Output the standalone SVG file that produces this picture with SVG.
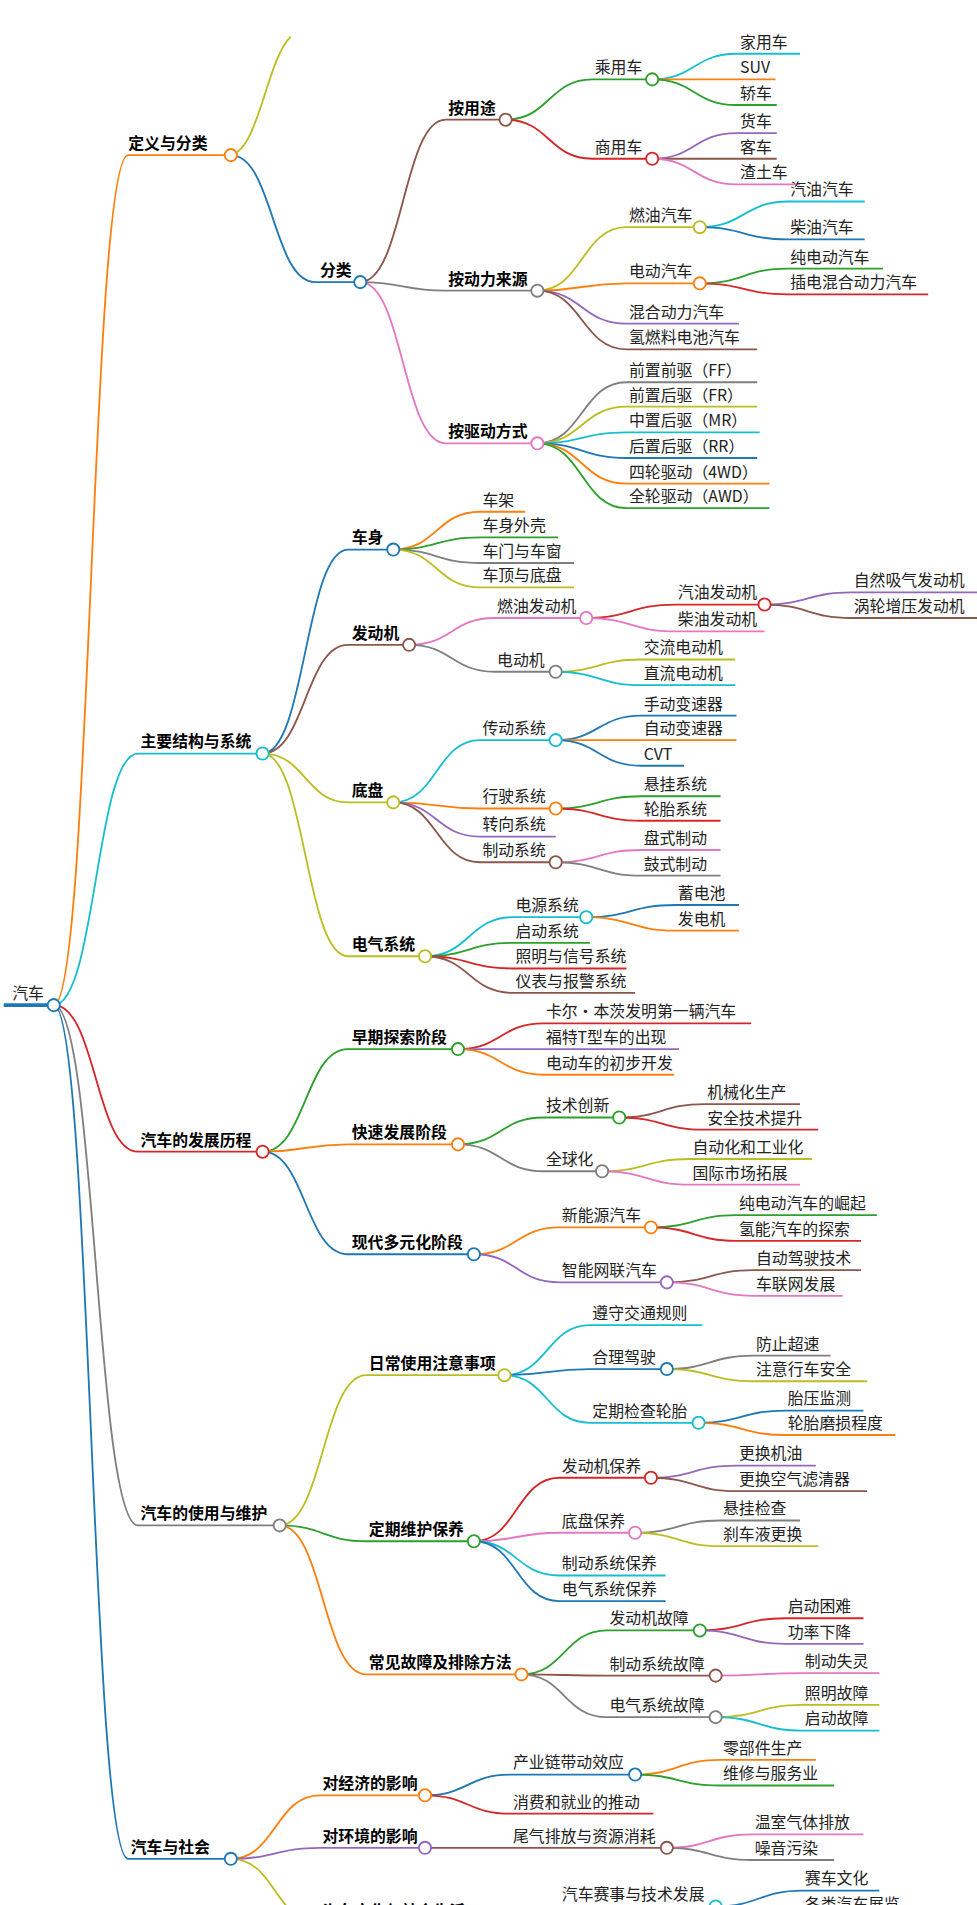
<svg xmlns="http://www.w3.org/2000/svg" width="977" height="1905" viewBox="0 0 977 1905">
<style>
path{fill:none;stroke-width:1.5}
circle{fill:#fff;stroke-width:1.5}
text{font-family:"Noto Sans CJK SC","Noto Sans",sans-serif;font-size:13px;fill:#222}
.h{font-weight:bold;fill:#000}
.b{stroke:#1f77b4}.o{stroke:#ff7f0e}.g{stroke:#2ca02c}.r{stroke:#d62728}.p{stroke:#9467bd}.n{stroke:#8c564b}.k{stroke:#e377c2}.y{stroke:#7f7f7f}.l{stroke:#bcbd22}.c{stroke:#17becf}
</style>
<rect width="977" height="1905" fill="#fff"/>
<g transform="scale(1.2213)">
<g id="connectors">
<path class="b" d="M3 823H44" style="stroke-width:3"/>
<path class="o" d="M44 823C74.5 823 74.5 127 105 127H189"/>
<path class="l" d="M189 127C212 122 218 50 238 30"/>
<path class="b" d="M189 127C223.5 127 223.5 231 258 231H295"/>
<path class="n" d="M295 231C330 231 330 98 365 98H414"/>
<path class="g" d="M414 98C449.5 98 449.5 65 485 65H534"/>
<path class="c" d="M534 65C568.5 65 568.5 44 603 44H655"/>
<path class="o" d="M534 65C568.5 65 568.5 65 603 65H635"/>
<path class="g" d="M534 65C568.5 65 568.5 86 603 86H636"/>
<path class="r" d="M414 98C449.5 98 449.5 130 485 130H534"/>
<path class="p" d="M534 130C568.5 130 568.5 109 603 109H636"/>
<path class="n" d="M534 130C568.5 130 568.5 130 603 130H636"/>
<path class="k" d="M534 130C568.5 130 568.5 151 603 151H655"/>
<path class="y" d="M295 231C330 231 330 238 365 238H440"/>
<path class="l" d="M440 238C476.5 238 476.5 186 513 186H573"/>
<path class="c" d="M573 186C609 186 609 165 645 165H708"/>
<path class="b" d="M573 186C609 186 609 196 645 196H708"/>
<path class="o" d="M440 238C476.5 238 476.5 232 513 232H573"/>
<path class="g" d="M573 232C609 232 609 220 645 220H723"/>
<path class="r" d="M573 232C609 232 609 241 645 241H760"/>
<path class="p" d="M440 238C476.5 238 476.5 265 513 265H605"/>
<path class="n" d="M440 238C476.5 238 476.5 286 513 286H620"/>
<path class="k" d="M295 231C330 231 330 363 365 363H440"/>
<path class="y" d="M440 363C476.5 363 476.5 313 513 313H620"/>
<path class="l" d="M440 363C476.5 363 476.5 333 513 333H620"/>
<path class="c" d="M440 363C476.5 363 476.5 354 513 354H622"/>
<path class="b" d="M440 363C476.5 363 476.5 375 513 375H620"/>
<path class="o" d="M440 363C476.5 363 476.5 396 513 396H630"/>
<path class="g" d="M440 363C476.5 363 476.5 416 513 416H630"/>
<path class="c" d="M44 823C78.5 823 78.5 617 113 617H215"/>
<path class="b" d="M215 617C250 617 250 450 285 450H322"/>
<path class="o" d="M322 450C357.5 450 357.5 419 393 419H430"/>
<path class="g" d="M322 450C357.5 450 357.5 440 393 440H457"/>
<path class="y" d="M322 450C357.5 450 357.5 461 393 461H470"/>
<path class="l" d="M322 450C357.5 450 357.5 481 393 481H470"/>
<path class="n" d="M215 617C250 617 250 528 285 528H335"/>
<path class="k" d="M335 528C370 528 370 506 405 506H480"/>
<path class="r" d="M480 506C516.5 506 516.5 495 553 495H626"/>
<path class="p" d="M626 495C661.5 495 661.5 485 697 485H800"/>
<path class="n" d="M626 495C661.5 495 661.5 506 697 506H800"/>
<path class="k" d="M480 506C516.5 506 516.5 517 553 517H626"/>
<path class="y" d="M335 528C370 528 370 550 405 550H455"/>
<path class="l" d="M455 550C490 550 490 540 525 540H602"/>
<path class="c" d="M455 550C490 550 490 561 525 561H602"/>
<path class="l" d="M215 617C250 617 250 657 285 657H322"/>
<path class="c" d="M322 657C357.5 657 357.5 606 393 606H455"/>
<path class="b" d="M455 606C490 606 490 586 525 586H603"/>
<path class="o" d="M455 606C490 606 490 606 525 606H603"/>
<path class="b" d="M455 606C490 606 490 627 525 627H560"/>
<path class="o" d="M322 657C357.5 657 357.5 662 393 662H455"/>
<path class="g" d="M455 662C490 662 490 652 525 652H590"/>
<path class="r" d="M455 662C490 662 490 672 525 672H590"/>
<path class="p" d="M322 657C357.5 657 357.5 685 393 685H455"/>
<path class="n" d="M322 657C357.5 657 357.5 706 393 706H455"/>
<path class="k" d="M455 706C490 706 490 696 525 696H590"/>
<path class="y" d="M455 706C490 706 490 717 525 717H590"/>
<path class="l" d="M215 617C250 617 250 783 285 783H348"/>
<path class="c" d="M348 783C384 783 384 751 420 751H480"/>
<path class="b" d="M480 751C516.5 751 516.5 741 553 741H605"/>
<path class="o" d="M480 751C516.5 751 516.5 762 553 762H605"/>
<path class="g" d="M348 783C384 783 384 772 420 772H483"/>
<path class="r" d="M348 783C384 783 384 793 420 793H513"/>
<path class="n" d="M348 783C384 783 384 813 420 813H520"/>
<path class="r" d="M44 823C78.5 823 78.5 943 113 943H215"/>
<path class="g" d="M215 943C250 943 250 859 285 859H375"/>
<path class="r" d="M375 859C410 859 410 838 445 838H615"/>
<path class="p" d="M375 859C410 859 410 859 445 859H556"/>
<path class="o" d="M375 859C410 859 410 880 445 880H552"/>
<path class="o" d="M215 943C250 943 250 937 285 937H375"/>
<path class="g" d="M375 937C410 937 410 915 445 915H507"/>
<path class="n" d="M507 915C542 915 542 904 577 904H655"/>
<path class="r" d="M507 915C542 915 542 925 577 925H670"/>
<path class="y" d="M375 937C410 937 410 959 445 959H493"/>
<path class="l" d="M493 959C529 959 529 949 565 949H665"/>
<path class="k" d="M493 959C529 959 529 970 565 970H655"/>
<path class="b" d="M215 943C250 943 250 1027 285 1027H388"/>
<path class="o" d="M388 1027C423 1027 423 1005 458 1005H533"/>
<path class="g" d="M533 1005C568 1005 568 995 603 995H718"/>
<path class="r" d="M533 1005C568 1005 568 1016 603 1016H705"/>
<path class="p" d="M388 1027C423 1027 423 1050 458 1050H546"/>
<path class="n" d="M546 1050C581.5 1050 581.5 1040 617 1040H705"/>
<path class="k" d="M546 1050C581.5 1050 581.5 1061 617 1061H690"/>
<path class="y" d="M44 823C78.5 823 78.5 1249 113 1249H229"/>
<path class="l" d="M229 1249C264.5 1249 264.5 1126 300 1126H413"/>
<path class="c" d="M413 1126C448 1126 448 1085 483 1085H575"/>
<path class="b" d="M413 1126C448 1126 448 1121 483 1121H546"/>
<path class="y" d="M546 1121C581.5 1121 581.5 1110 617 1110H680"/>
<path class="l" d="M546 1121C581.5 1121 581.5 1131 617 1131H710"/>
<path class="c" d="M413 1126C448 1126 448 1165 483 1165H572"/>
<path class="b" d="M572 1165C607.5 1165 607.5 1155 643 1155H707"/>
<path class="o" d="M572 1165C607.5 1165 607.5 1175 643 1175H733"/>
<path class="g" d="M229 1249C264.5 1249 264.5 1262 300 1262H388"/>
<path class="r" d="M388 1262C423 1262 423 1210 458 1210H533"/>
<path class="p" d="M533 1210C568 1210 568 1200 603 1200H668"/>
<path class="n" d="M533 1210C568 1210 568 1221 603 1221H710"/>
<path class="k" d="M388 1262C423 1262 423 1255 458 1255H520"/>
<path class="y" d="M520 1255C555 1255 555 1245 590 1245H655"/>
<path class="l" d="M520 1255C555 1255 555 1266 590 1266H670"/>
<path class="c" d="M388 1262C423 1262 423 1290 458 1290H545"/>
<path class="b" d="M388 1262C423 1262 423 1311 458 1311H545"/>
<path class="o" d="M229 1249C264.5 1249 264.5 1371 300 1371H427"/>
<path class="g" d="M427 1371C462 1371 462 1335 497 1335H573"/>
<path class="r" d="M573 1335C608 1335 608 1325 643 1325H707"/>
<path class="p" d="M573 1335C608 1335 608 1346 643 1346H707"/>
<path class="n" d="M427 1371C462 1371 462 1372 497 1372H586"/>
<path class="k" d="M586 1372C621.5 1372 621.5 1370 657 1370H720"/>
<path class="y" d="M427 1371C462 1371 462 1406 497 1406H586"/>
<path class="l" d="M586 1406C621.5 1406 621.5 1396 657 1396H720"/>
<path class="c" d="M586 1406C621.5 1406 621.5 1417 657 1417H720"/>
<path class="b" d="M44 823C74.5 823 74.5 1522 105 1522H189"/>
<path class="o" d="M189 1522C225.5 1522 225.5 1470 262 1470H348"/>
<path class="b" d="M348 1470C383 1470 383 1453 418 1453H520"/>
<path class="o" d="M520 1453C555 1453 555 1441 590 1441H668"/>
<path class="g" d="M520 1453C555 1453 555 1462 590 1462H683"/>
<path class="r" d="M348 1470C383 1470 383 1485 418 1485H535"/>
<path class="p" d="M189 1522C225.5 1522 225.5 1513 262 1513H348"/>
<path class="n" d="M348 1513H546"/>
<path class="k" d="M546 1513C581 1513 581 1502 616 1502H707"/>
<path class="y" d="M546 1513C581 1513 581 1523 616 1523H683"/>
<path class="l" d="M189 1522C225.5 1522 225.5 1575 262 1575H388"/>
<path class="c" d="M388 1575C423 1575 423 1561 458 1561H586"/>
<path class="b" d="M586 1561C621.5 1561 621.5 1548 657 1548H720"/>
<path class="o" d="M586 1561C621.5 1561 621.5 1569 657 1569H735"/>
</g>
<g id="n0"><text x="10" y="818">汽车</text><circle class="b" cx="44" cy="823" r="5"/></g>
<g id="n1"><text class="h" x="105" y="122">定义与分类</text><circle class="o" cx="189" cy="127" r="5"/></g>
<g id="n2"><text class="h" x="262" y="226">分类</text><circle class="b" cx="295" cy="231" r="5"/></g>
<g id="n3"><text class="h" x="367" y="93">按用途</text><circle class="n" cx="414" cy="98" r="5"/></g>
<g id="n4"><text x="487" y="60">乘用车</text><circle class="g" cx="534" cy="65" r="5"/></g>
<g id="n5"><text x="606" y="39">家用车</text></g>
<g id="n6"><text x="606" y="60">SUV</text></g>
<g id="n7"><text x="606" y="81">轿车</text></g>
<g id="n8"><text x="487" y="125">商用车</text><circle class="r" cx="534" cy="130" r="5"/></g>
<g id="n9"><text x="606" y="104">货车</text></g>
<g id="n10"><text x="606" y="125">客车</text></g>
<g id="n11"><text x="606" y="146">渣土车</text></g>
<g id="n12"><text class="h" x="367" y="233">按动力来源</text><circle class="y" cx="440" cy="238" r="5"/></g>
<g id="n13"><text x="515" y="181">燃油汽车</text><circle class="l" cx="573" cy="186" r="5"/></g>
<g id="n14"><text x="647" y="160">汽油汽车</text></g>
<g id="n15"><text x="647" y="191">柴油汽车</text></g>
<g id="n16"><text x="515" y="227">电动汽车</text><circle class="o" cx="573" cy="232" r="5"/></g>
<g id="n17"><text x="647" y="215">纯电动汽车</text></g>
<g id="n18"><text x="647" y="236">插电混合动力汽车</text></g>
<g id="n19"><text x="515" y="260">混合动力汽车</text></g>
<g id="n20"><text x="515" y="281">氢燃料电池汽车</text></g>
<g id="n21"><text class="h" x="367" y="358">按驱动方式</text><circle class="k" cx="440" cy="363" r="5"/></g>
<g id="n22"><text x="515" y="308">前置前驱（FF）</text></g>
<g id="n23"><text x="515" y="328">前置后驱（FR）</text></g>
<g id="n24"><text x="515" y="349">中置后驱（MR）</text></g>
<g id="n25"><text x="515" y="370">后置后驱（RR）</text></g>
<g id="n26"><text x="515" y="391">四轮驱动（4WD）</text></g>
<g id="n27"><text x="515" y="411">全轮驱动（AWD）</text></g>
<g id="n28"><text class="h" x="115" y="612">主要结构与系统</text><circle class="c" cx="215" cy="617" r="5"/></g>
<g id="n29"><text class="h" x="288" y="445">车身</text><circle class="b" cx="322" cy="450" r="5"/></g>
<g id="n30"><text x="395" y="414">车架</text></g>
<g id="n31"><text x="395" y="435">车身外壳</text></g>
<g id="n32"><text x="395" y="456">车门与车窗</text></g>
<g id="n33"><text x="395" y="476">车顶与底盘</text></g>
<g id="n34"><text class="h" x="288" y="523">发动机</text><circle class="n" cx="335" cy="528" r="5"/></g>
<g id="n35"><text x="407" y="501">燃油发动机</text><circle class="k" cx="480" cy="506" r="5"/></g>
<g id="n36"><text x="555" y="490">汽油发动机</text><circle class="r" cx="626" cy="495" r="5"/></g>
<g id="n37"><text x="699" y="480">自然吸气发动机</text></g>
<g id="n38"><text x="699" y="501">涡轮增压发动机</text></g>
<g id="n39"><text x="555" y="512">柴油发动机</text></g>
<g id="n40"><text x="407" y="545">电动机</text><circle class="y" cx="455" cy="550" r="5"/></g>
<g id="n41"><text x="527" y="535">交流电动机</text></g>
<g id="n42"><text x="527" y="556">直流电动机</text></g>
<g id="n43"><text class="h" x="288" y="652">底盘</text><circle class="l" cx="322" cy="657" r="5"/></g>
<g id="n44"><text x="395" y="601">传动系统</text><circle class="c" cx="455" cy="606" r="5"/></g>
<g id="n45"><text x="527" y="581">手动变速器</text></g>
<g id="n46"><text x="527" y="601">自动变速器</text></g>
<g id="n47"><text x="527" y="622">CVT</text></g>
<g id="n48"><text x="395" y="657">行驶系统</text><circle class="o" cx="455" cy="662" r="5"/></g>
<g id="n49"><text x="527" y="647">悬挂系统</text></g>
<g id="n50"><text x="527" y="667">轮胎系统</text></g>
<g id="n51"><text x="395" y="680">转向系统</text></g>
<g id="n52"><text x="395" y="701">制动系统</text><circle class="n" cx="455" cy="706" r="5"/></g>
<g id="n53"><text x="527" y="691">盘式制动</text></g>
<g id="n54"><text x="527" y="712">鼓式制动</text></g>
<g id="n55"><text class="h" x="288" y="778">电气系统</text><circle class="l" cx="348" cy="783" r="5"/></g>
<g id="n56"><text x="422" y="746">电源系统</text><circle class="c" cx="480" cy="751" r="5"/></g>
<g id="n57"><text x="555" y="736">蓄电池</text></g>
<g id="n58"><text x="555" y="757">发电机</text></g>
<g id="n59"><text x="422" y="767">启动系统</text></g>
<g id="n60"><text x="422" y="788">照明与信号系统</text></g>
<g id="n61"><text x="422" y="808">仪表与报警系统</text></g>
<g id="n62"><text class="h" x="115" y="938">汽车的发展历程</text><circle class="r" cx="215" cy="943" r="5"/></g>
<g id="n63"><text class="h" x="288" y="854">早期探索阶段</text><circle class="g" cx="375" cy="859" r="5"/></g>
<g id="n64"><text x="447" y="833">卡尔·本茨发明第一辆汽车</text></g>
<g id="n65"><text x="447" y="854">福特T型车的出现</text></g>
<g id="n66"><text x="447" y="875">电动车的初步开发</text></g>
<g id="n67"><text class="h" x="288" y="932">快速发展阶段</text><circle class="o" cx="375" cy="937" r="5"/></g>
<g id="n68"><text x="447" y="910">技术创新</text><circle class="g" cx="507" cy="915" r="5"/></g>
<g id="n69"><text x="579" y="899">机械化生产</text></g>
<g id="n70"><text x="579" y="920">安全技术提升</text></g>
<g id="n71"><text x="447" y="954">全球化</text><circle class="y" cx="493" cy="959" r="5"/></g>
<g id="n72"><text x="567" y="944">自动化和工业化</text></g>
<g id="n73"><text x="567" y="965">国际市场拓展</text></g>
<g id="n74"><text class="h" x="288" y="1022">现代多元化阶段</text><circle class="b" cx="388" cy="1027" r="5"/></g>
<g id="n75"><text x="460" y="1000">新能源汽车</text><circle class="o" cx="533" cy="1005" r="5"/></g>
<g id="n76"><text x="605" y="990">纯电动汽车的崛起</text></g>
<g id="n77"><text x="605" y="1011">氢能汽车的探索</text></g>
<g id="n78"><text x="460" y="1045">智能网联汽车</text><circle class="p" cx="546" cy="1050" r="5"/></g>
<g id="n79"><text x="619" y="1035">自动驾驶技术</text></g>
<g id="n80"><text x="619" y="1056">车联网发展</text></g>
<g id="n81"><text class="h" x="115" y="1244">汽车的使用与维护</text><circle class="y" cx="229" cy="1249" r="5"/></g>
<g id="n82"><text class="h" x="302" y="1121">日常使用注意事项</text><circle class="l" cx="413" cy="1126" r="5"/></g>
<g id="n83"><text x="485" y="1080">遵守交通规则</text></g>
<g id="n84"><text x="485" y="1116">合理驾驶</text><circle class="b" cx="546" cy="1121" r="5"/></g>
<g id="n85"><text x="619" y="1105">防止超速</text></g>
<g id="n86"><text x="619" y="1126">注意行车安全</text></g>
<g id="n87"><text x="485" y="1160">定期检查轮胎</text><circle class="c" cx="572" cy="1165" r="5"/></g>
<g id="n88"><text x="645" y="1150">胎压监测</text></g>
<g id="n89"><text x="645" y="1170">轮胎磨损程度</text></g>
<g id="n90"><text class="h" x="302" y="1257">定期维护保养</text><circle class="g" cx="388" cy="1262" r="5"/></g>
<g id="n91"><text x="460" y="1205">发动机保养</text><circle class="r" cx="533" cy="1210" r="5"/></g>
<g id="n92"><text x="605" y="1195">更换机油</text></g>
<g id="n93"><text x="605" y="1216">更换空气滤清器</text></g>
<g id="n94"><text x="460" y="1250">底盘保养</text><circle class="k" cx="520" cy="1255" r="5"/></g>
<g id="n95"><text x="592" y="1240">悬挂检查</text></g>
<g id="n96"><text x="592" y="1261">刹车液更换</text></g>
<g id="n97"><text x="460" y="1285">制动系统保养</text></g>
<g id="n98"><text x="460" y="1306">电气系统保养</text></g>
<g id="n99"><text class="h" x="302" y="1366">常见故障及排除方法</text><circle class="o" cx="427" cy="1371" r="5"/></g>
<g id="n100"><text x="499" y="1330">发动机故障</text><circle class="g" cx="573" cy="1335" r="5"/></g>
<g id="n101"><text x="645" y="1320">启动困难</text></g>
<g id="n102"><text x="645" y="1341">功率下降</text></g>
<g id="n103"><text x="499" y="1367">制动系统故障</text><circle class="n" cx="586" cy="1372" r="5"/></g>
<g id="n104"><text x="659" y="1365">制动失灵</text></g>
<g id="n105"><text x="499" y="1401">电气系统故障</text><circle class="y" cx="586" cy="1406" r="5"/></g>
<g id="n106"><text x="659" y="1391">照明故障</text></g>
<g id="n107"><text x="659" y="1412">启动故障</text></g>
<g id="n108"><text class="h" x="107" y="1517">汽车与社会</text><circle class="b" cx="189" cy="1522" r="5"/></g>
<g id="n109"><text class="h" x="264" y="1465">对经济的影响</text><circle class="o" cx="348" cy="1470" r="5"/></g>
<g id="n110"><text x="420" y="1448">产业链带动效应</text><circle class="b" cx="520" cy="1453" r="5"/></g>
<g id="n111"><text x="592" y="1436">零部件生产</text></g>
<g id="n112"><text x="592" y="1457">维修与服务业</text></g>
<g id="n113"><text x="420" y="1480">消费和就业的推动</text></g>
<g id="n114"><text class="h" x="264" y="1508">对环境的影响</text><circle class="p" cx="348" cy="1513" r="5"/></g>
<g id="n115"><text x="420" y="1508">尾气排放与资源消耗</text><circle class="n" cx="546" cy="1513" r="5"/></g>
<g id="n116"><text x="618" y="1497">温室气体排放</text></g>
<g id="n117"><text x="618" y="1518">噪音污染</text></g>
<g id="n118"><text class="h" x="264" y="1570">汽车文化与社会生活</text><circle class="l" cx="388" cy="1575" r="5"/></g>
<g id="n119"><text x="460" y="1556">汽车赛事与技术发展</text><circle class="c" cx="586" cy="1561" r="5"/></g>
<g id="n120"><text x="659" y="1543">赛车文化</text></g>
<g id="n121"><text x="659" y="1564">各类汽车展览</text></g>
</g>
</svg>
